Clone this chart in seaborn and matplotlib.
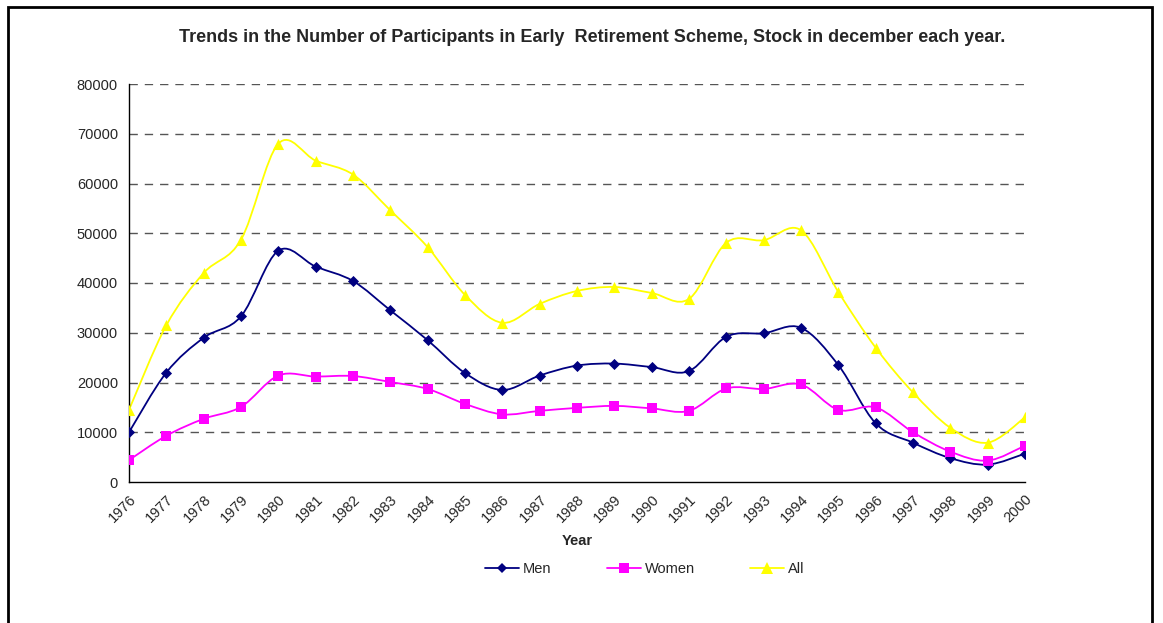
import numpy as np
import pandas as pd
import matplotlib
matplotlib.use('Agg')
import matplotlib.pyplot as plt
from matplotlib.path import Path
from matplotlib.patches import PathPatch, Rectangle
from matplotlib.lines import Line2D
import seaborn as sns

years = list(range(1976, 2001))
men = [10000, 22000, 29000, 33300, 46500, 43300, 40400, 34500, 28500, 21900,
       18500, 21400, 23400, 23800, 23100, 22300, 29200, 29900, 31000, 23500,
       11800, 7900, 4800, 3500, 5700]
women = [4400, 9300, 12700, 15100, 21400, 21200, 21300, 20100, 18700, 15700,
         13600, 14300, 14900, 15300, 14800, 14300, 18800, 18700, 19600, 14500,
         15000, 10000, 6100, 4300, 7300]
all_ = [14500, 31500, 42000, 48700, 68000, 64600, 61800, 54600, 47200, 37600,
        32000, 35800, 38400, 39200, 38000, 36800, 48100, 48600, 50600, 38200,
        27000, 18000, 10900, 7900, 13000]

series = ['Men', 'Women', 'All']
colors = {'Men': '#000080', 'Women': '#FF00FF', 'All': '#FFFF00'}
markers = {'Men': 'D', 'Women': 's', 'All': '^'}
msizes = {'Men': 32, 'Women': 48, 'All': 64}

df = pd.DataFrame({'Year': years * 3,
                   'value': men + women + all_,
                   'series': sum([[s] * len(years) for s in series], [])})

sns.set_theme(style='white')
plt.rcParams['font.family'] = ['Liberation Sans', 'DejaVu Sans']

fig = plt.figure(figsize=(11.63, 6.23), dpi=100)
ax = fig.add_axes([129 / 1163, 1 - 482 / 623, (1025 - 129) / 1163, (482 - 84) / 623])


def smooth_path(x, y):
    # excel style smoothed line: catmull-rom segments as cubic bezier
    x = np.asarray(x, float)
    y = np.asarray(y, float)
    px = np.concatenate([[x[0]], x, [x[-1]]])
    py = np.concatenate([[y[0]], y, [y[-1]]])
    verts = [(x[0], y[0])]
    codes = [Path.MOVETO]
    for i in range(1, len(x)):
        c1 = (px[i] + (px[i + 1] - px[i - 1]) / 6, py[i] + (py[i + 1] - py[i - 1]) / 6)
        c2 = (px[i + 1] - (px[i + 2] - px[i]) / 6, py[i + 1] - (py[i + 2] - py[i]) / 6)
        verts += [c1, c2, (px[i + 1], py[i + 1])]
        codes += [Path.CURVE4] * 3
    return Path(verts, codes)


for s in series:
    sub = df[df['series'] == s]
    ax.add_patch(PathPatch(smooth_path(sub['Year'], sub['value']), facecolor='none',
                           edgecolor=colors[s], lw=1.3, zorder=2))

for s in series:
    sub = df[df['series'] == s]
    sns.scatterplot(data=sub, x='Year', y='value', color=colors[s], marker=markers[s],
                    s=msizes[s], edgecolor=colors[s], linewidth=0, ax=ax, zorder=3,
                    legend=False)

ax.set_xlim(1976, 2000)
ax.set_ylim(0, 80000)
ax.set_xticks(years)
ax.set_xticklabels([str(y) for y in years], rotation=45, ha='right',
                   rotation_mode='anchor', fontsize=10.5)
ax.set_yticks(range(0, 80001, 10000))
ax.set_yticklabels([str(v) for v in range(0, 80001, 10000)], fontsize=10.5)
ax.tick_params(axis='x', direction='inout', length=7, width=1, color='black', pad=4)
ax.tick_params(axis='y', direction='out', length=4, width=1, color='black', pad=4)
ax.grid(False)
for v in range(10000, 80001, 10000):
    ax.axhline(v, color='#555555', lw=1, ls=(0, (6, 5)), zorder=1)

sns.despine(ax=ax)
ax.spines['left'].set_color('black')
ax.spines['bottom'].set_color('black')
ax.spines['left'].set_linewidth(1)
ax.spines['bottom'].set_linewidth(1)

ax.set_xlabel('Year', fontsize=10.5, fontweight='bold', labelpad=6)
ax.set_ylabel('')

fig.text(592 / 1163, 1 - 37 / 623,
         'Trends in the Number of Participants in Early  Retirement Scheme, Stock in december each year.',
         ha='center', va='center', fontsize=13, fontweight='bold')

handles = [Line2D([], [], color=colors[s], marker=markers[s], lw=1.3,
                  markersize={'Men': 5, 'Women': 7, 'All': 8}[s], markeredgewidth=0)
           for s in series]
fig.legend(handles, series, loc='center', bbox_to_anchor=(645 / 1163, 1 - 569 / 623),
           ncol=3, frameon=False, fontsize=10.5, handlelength=2.3, columnspacing=3.8,
           handletextpad=0.3)

fig.add_artist(Rectangle((8 / 1163, -0.05), (1152 - 8) / 1163, 1.05 - 7 / 623,
                         transform=fig.transFigure, fill=False, edgecolor='black', lw=2))

fig.savefig('out.png', dpi=100)
